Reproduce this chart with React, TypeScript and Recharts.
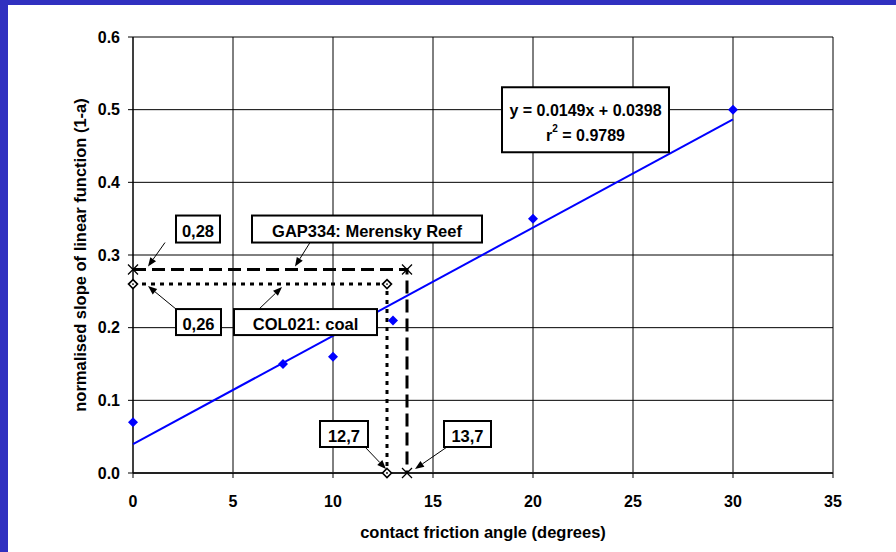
import React from 'react'
import { ScatterChart, Scatter, XAxis, YAxis, CartesianGrid, ReferenceDot } from 'recharts'

// measured values
const angle = [0, 7.5, 10, 13, 20, 30]
const slope = [0.07, 0.15, 0.16, 0.21, 0.35, 0.5]

// linear trendline ends (y = 0.0149x + 0.0398)
const trendX = [0, 30]
const trendY = [0.0398, 0.4868]

// read-off lines
const gapX = [0, 13.7, 13.7]
const gapY = [0.28, 0.28, 0]
const coalX = [0, 12.7, 12.7]
const coalY = [0.26, 0.26, 0]

const xTicks = [0, 5, 10, 15, 20, 25, 30, 35]
const yTicks = [0, 0.1, 0.2, 0.3, 0.4, 0.5, 0.6]

const calloutText = ['0,28', 'GAP334: Merensky Reef', '0,26', 'COL021: coal', '12,7', '13,7']
const calloutX = [0, 0, 0, 0, 12.7, 13.7]
const calloutY = [0.28, 0.28, 0.26, 0.26, 0, 0]

const eqLine1 = 'y = 0.0149x + 0.0398'
const eqR2 = '0.9789'

const zip = (xs: number[], ys: number[]) => xs.map((x, i) => ({ x, y: ys[i] }))

// pixel offsets of each callout box and arrow from its anchor
const calloutLayout = [
  { dx: 43, dy: -54, w: 44, h: 27, from: [32, -27], to: [15, -3] },
  { dx: 119, dy: -54, w: 230, h: 27, from: [177, -27], to: [162, -3] },
  { dx: 43, dy: 25, w: 45, h: 26, from: [43, 25], to: [15, 2] },
  { dx: 101, dy: 25, w: 143, h: 26, from: [126, 25], to: [149, 3] },
  { dx: -67, dy: -52, w: 48, h: 26, from: [-22, -26], to: [-1, -4] },
  { dx: 37, dy: -52, w: 47, h: 26, from: [40, -26], to: [8, -4] },
]

const FONT = '"Liberation Sans", Arial, sans-serif'

function Arrow({ x1, y1, x2, y2 }: { x1: number; y1: number; x2: number; y2: number }) {
  const a = Math.atan2(y2 - y1, x2 - x1)
  const len = 9
  const half = 3.5
  const bx = x2 - len * Math.cos(a)
  const by = y2 - len * Math.sin(a)
  const px = -Math.sin(a) * half
  const py = Math.cos(a) * half
  return (
    <g>
      <line x1={x1} y1={y1} x2={bx} y2={by} stroke="#000" strokeWidth={1} />
      <polygon points={`${x2},${y2} ${bx + px},${by + py} ${bx - px},${by - py}`} fill="#000" />
    </g>
  )
}

const blueDiamond = (p: any) => {
  const { cx, cy } = p
  return <path d={`M${cx},${cy - 5} L${cx + 5},${cy} L${cx},${cy + 5} L${cx - 5},${cy} Z`} fill="#0000FF" />
}

const starMark = (p: any) => {
  const { cx, cy } = p
  return (
    <g stroke="#000" strokeWidth={1.3}>
      <line x1={cx - 5} y1={cy - 5} x2={cx + 5} y2={cy + 5} />
      <line x1={cx - 5} y1={cy + 5} x2={cx + 5} y2={cy - 5} />
    </g>
  )
}

const hollowDiamond = (p: any) => {
  const { cx, cy } = p
  return (
    <g>
      <path d={`M${cx},${cy - 4.5} L${cx + 4.5},${cy} L${cx},${cy + 4.5} L${cx - 4.5},${cy} Z`} fill="#fff" stroke="#000" strokeWidth={1.6} />
      <circle cx={cx} cy={cy} r={0.9} fill="#000" />
    </g>
  )
}

const noMark = () => <g />

export default function App() {
  const points = zip(angle, slope)
  const trend = zip(trendX, trendY)
  const gap = zip(gapX, gapY)
  const coal = zip(coalX, coalY)

  return (
    <div style={{ position: 'absolute', left: 0, top: 0, width: 896, height: 552, background: '#fff', fontFamily: FONT }}>
      <div style={{ position: 'absolute', left: 0, top: 0, width: 896, height: 5, background: '#3030C0' }} />
      <div style={{ position: 'absolute', left: 0, top: 0, width: 8, height: 552, background: '#3030C0' }} />
      <div style={{ position: 'absolute', left: 0, top: 0 }}>
        <ScatterChart width={896} height={552} margin={{ top: 37, right: 63, bottom: 9, left: 27 }}>
          <CartesianGrid stroke="#000" strokeWidth={1} />
          <XAxis
            type="number"
            dataKey="x"
            domain={[0, 35]}
            ticks={xTicks}
            interval={0}
            height={70}
            tickSize={5}
            tickMargin={18}
            stroke="#000"
            axisLine={{ stroke: '#222', strokeWidth: 2 }}
            tick={{ fill: '#000', fontSize: 16, fontWeight: 'bold', fontFamily: FONT }}
            label={{ value: 'contact friction angle (degrees)', position: 'insideBottom', offset: 5, fill: '#000', fontSize: 16.5, fontWeight: 'bold', fontFamily: FONT }}
          />
          <YAxis
            type="number"
            dataKey="y"
            domain={[0, 0.6]}
            ticks={yTicks}
            interval={0}
            width={106}
            tickSize={5}
            tickMargin={8}
            stroke="#000"
            tickFormatter={(v: number) => v.toFixed(1)}
            tick={{ fill: '#000', fontSize: 16, fontWeight: 'bold', fontFamily: FONT }}
            label={{ value: 'normalised slope of linear function (1-a)', angle: -90, position: 'center', fill: '#000', fontSize: 16.5, fontWeight: 'bold', fontFamily: FONT }}
          />
          <Scatter data={gap} isAnimationActive={false} line={{ stroke: '#000', strokeWidth: 3, strokeDasharray: '13 6' }} lineType="joint" shape={starMark} />
          <Scatter data={coal} isAnimationActive={false} line={{ stroke: '#000', strokeWidth: 3, strokeDasharray: '4 5' }} lineType="joint" shape={hollowDiamond} />
          <Scatter data={trend} isAnimationActive={false} line={{ stroke: '#0000FF', strokeWidth: 2 }} lineType="joint" shape={noMark} />
          <Scatter data={points} isAnimationActive={false} shape={blueDiamond} />
          {calloutText.map((t, i) => {
            const l = calloutLayout[i]
            return (
              <ReferenceDot
                key={t}
                x={calloutX[i]}
                y={calloutY[i]}
                r={0}
                shape={(p: any) => {
                  const { cx, cy } = p
                  return (
                    <g>
                      <Arrow x1={cx + l.from[0]} y1={cy + l.from[1]} x2={cx + l.to[0]} y2={cy + l.to[1]} />
                      <rect x={cx + l.dx} y={cy + l.dy} width={l.w} height={l.h} fill="#fff" stroke="#000" strokeWidth={2} />
                      <text x={cx + l.dx + l.w / 2} y={cy + l.dy + 21} textAnchor="middle" fontSize={16.5} fontWeight="bold" fontFamily={FONT} fill="#000">
                        {t}
                      </text>
                    </g>
                  )
                }}
              />
            )
          })}
          <ReferenceDot
            x={trendX[1]}
            y={trendY[1]}
            r={0}
            shape={(p: any) => {
              const { cx, cy } = p
              return (
                <g fontFamily={FONT} fontWeight="bold" fill="#000">
                  <rect x={cx - 231} y={cy - 32} width={167} height={65} fill="#fff" stroke="#000" strokeWidth={2} />
                  <text x={cx - 147.5} y={cy - 3} textAnchor="middle" fontSize={16}>{eqLine1}</text>
                  <text x={cx - 147.5} y={cy + 22} textAnchor="middle" fontSize={16}>
                    r<tspan dy={-9} fontSize={10}>2</tspan><tspan dy={9}>{' = ' + eqR2}</tspan>
                  </text>
                </g>
              )
            }}
          />
        </ScatterChart>
      </div>
    </div>
  )
}
